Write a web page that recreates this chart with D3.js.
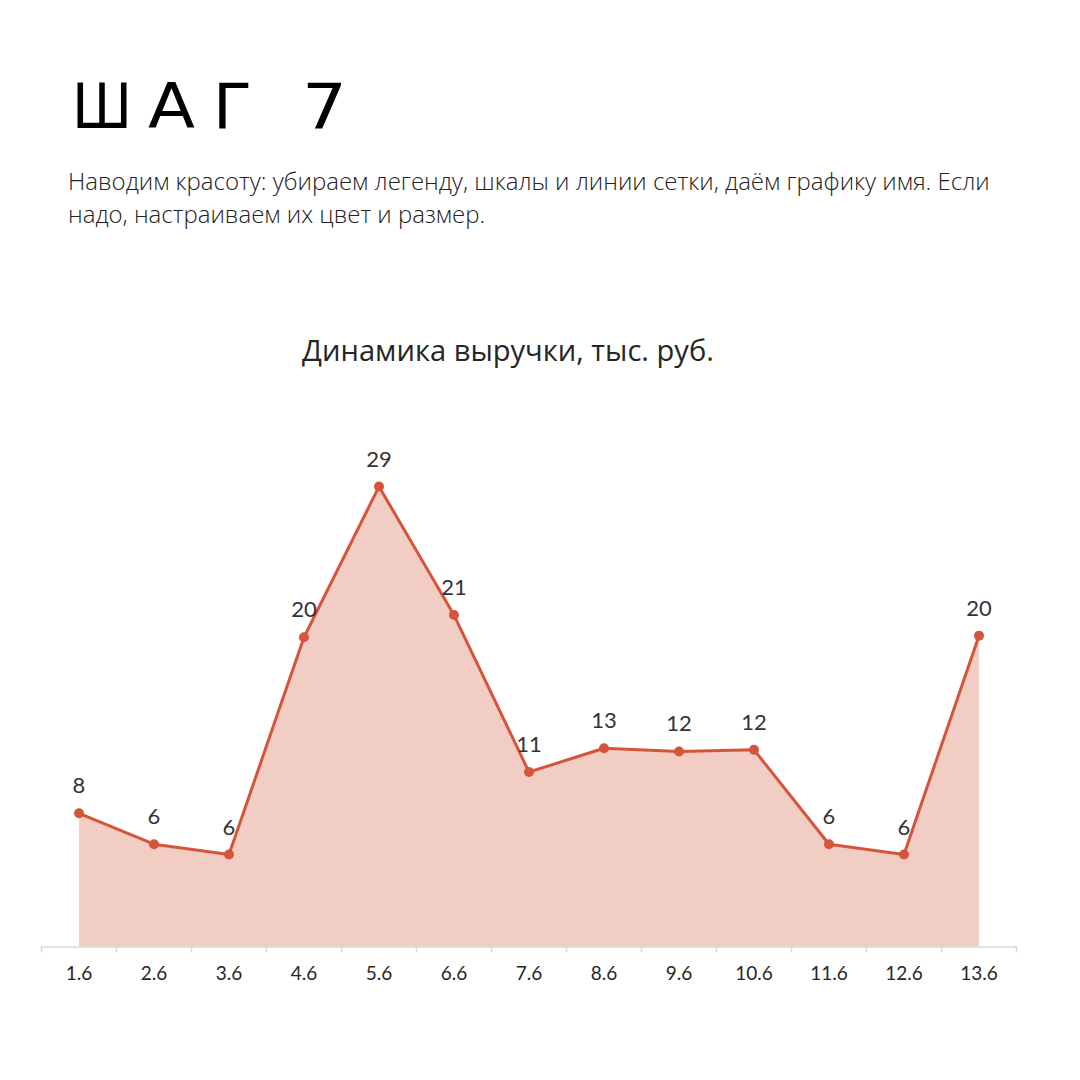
<!DOCTYPE html>
<html lang="ru">
<head>
    <meta charset="UTF-8">
    <title>Шаг 7</title>
	<style>
		html, body { margin:0; padding:0; background:#fff; }
		#CHART { display:block; }
		.step-title { font-family:"DejaVu Sans", sans-serif; fill:#000; }
		.step-text { font-family:"Open Sans", sans-serif; font-weight:300; fill:#222; }
		.chart-title { font-family:"Open Sans", sans-serif; font-weight:500; fill:#262626; }
		.data-label { font-family:Lato, "Open Sans", sans-serif; fill:#333; text-anchor:middle; }
		.x-axis text { font-family:Lato, "Open Sans", sans-serif; fill:#262626; }
	</style>
</head>
<body>
	<svg id="CHART" width="1080" height="1080"></svg>

	<script src="https://cdnjs.cloudflare.com/ajax/libs/d3/7.8.5/d3.min.js"></script>
	<script>
		/******** data ********/
		var categories = ["1.6", "2.6", "3.6", "4.6", "5.6", "6.6", "7.6", "8.6", "9.6", "10.6", "11.6", "12.6", "13.6"];
		var revenue = [8.4, 6.45, 5.8, 19.5, 29.0, 20.9, 11.0, 12.5, 12.3, 12.4, 6.45, 5.8, 19.6];
		var yDomain = [0, 30];

		var stepTitle = ["Ш", "А", "Г", "7"];
		var stepText = [
			"Наводим красоту: убираем легенду, шкалы и линии сетки, даём графику имя. Если",
			"надо, настраиваем их цвет и размер."
		];
		var chartTitle = "Динамика выручки, тыс. руб.";

		var lineColor = "#d4553a";
		var areaColor = "#f2cdc4";

		var svg = d3.select("#CHART");

		// подгоняем размер шрифта под нужную ширину
		function fitWidth(sel, width){
			var size = parseFloat(sel.attr("font-size"));
			var len = sel.node().getComputedTextLength();
			if(len > 0) sel.attr("font-size", size * width / len);
		}

		/******** header ********/
		// каждую букву заголовка растягиваем по ширине, как в широком шрифте
		var glyphX = [72, 148, 213, 302];
		var glyphW = [60, 47, 39, 45];
		svg.append("g")
			.selectAll("text")
			.data(stepTitle)
			.join("text")
				.attr("class", "step-title")
				.attr("x", function(d, i){ return glyphX[i]; })
				.attr("y", 128)
				.attr("font-size", 63)
				.attr("textLength", function(d, i){ return glyphW[i]; })
				.attr("lengthAdjust", "spacingAndGlyphs")
				.text(function(d){ return d; });

		stepText.forEach(function(line, i){
			svg.append("text")
				.attr("class", "step-text")
				.attr("x", 68)
				.attr("y", 190 + i * 33)
				.attr("font-size", 22)
				.text(line);
		});
		fitWidth(svg.selectAll(".step-text").filter(function(d, i){ return i == 0; }), 922);
		svg.selectAll(".step-text").attr("font-size", svg.select(".step-text").attr("font-size"));

		/******** chart ********/
		var x = d3.scaleBand()
			.domain(categories)
			.range([41.5, 1016.5])
			.padding(0);
		var y = d3.scaleLinear()
			.domain(yDomain)
			.range([946.5, 470.7]);

		var cx = function(d, i){ return x(categories[i]) + x.bandwidth() / 2; };

		var title = svg.append("text")
			.attr("class", "chart-title")
			.attr("x", 508)
			.attr("y", 361)
			.attr("text-anchor", "middle")
			.attr("font-size", 26)
			.text(chartTitle);
		fitWidth(title, 412);

		var area = d3.area()
			.x(cx)
			.y0(y(0))
			.y1(function(d){ return y(d); });
		var line = d3.line()
			.x(cx)
			.y(function(d){ return y(d); });

		svg.append("path")
			.datum(revenue)
			.attr("fill", areaColor)
			.attr("d", area);

		// ось X: подписи по центру, засечки на границах категорий
		var axis = svg.append("g")
			.attr("class", "x-axis")
			.attr("transform", "translate(0," + y(0) + ")")
			.call(d3.axisBottom(x).tickSize(0).tickPadding(20));
		axis.select(".domain").attr("stroke", "#d9d9d9").attr("stroke-width", 1.5);
		axis.selectAll("text").attr("font-size", 19);

		var bounds = categories.map(function(c){ return x(c); }).concat([x.range()[1]]);
		axis.selectAll(".bound")
			.data(bounds)
			.join("line")
				.attr("class", "bound")
				.attr("x1", function(d){ return d; })
				.attr("x2", function(d){ return d; })
				.attr("y1", 0)
				.attr("y2", 6)
				.attr("stroke", "#d9d9d9")
				.attr("stroke-width", 1.5);

		svg.append("path")
			.datum(revenue)
			.attr("fill", "none")
			.attr("stroke", lineColor)
			.attr("stroke-width", 3)
			.attr("stroke-linejoin", "round")
			.attr("d", line);

		svg.append("g")
			.selectAll("circle")
			.data(revenue)
			.join("circle")
				.attr("cx", cx)
				.attr("cy", function(d){ return y(d); })
				.attr("r", 5)
				.attr("fill", lineColor);

		svg.append("g")
			.selectAll("text")
			.data(revenue)
			.join("text")
				.attr("class", "data-label")
				.attr("x", cx)
				.attr("y", function(d){ return y(d) - 20; })
				.attr("font-size", 22)
				.text(function(d){ return Math.round(d); });
	</script>
</body>
</html>
